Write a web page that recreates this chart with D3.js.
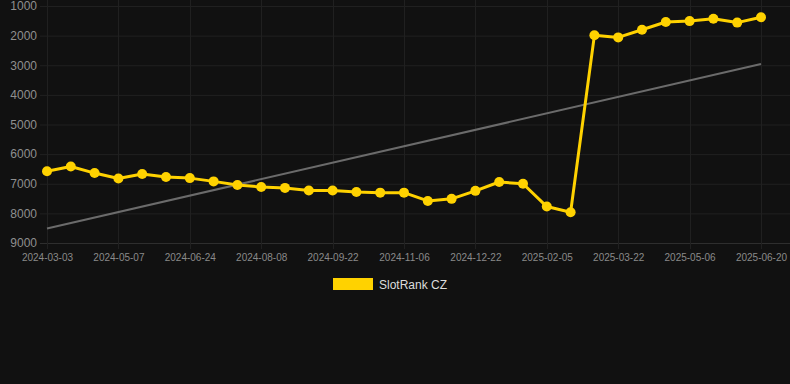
<!DOCTYPE html>
<html>
<head>
<meta charset="utf-8">
<script src="https://cdn.jsdelivr.net/npm/d3@7"></script>
<style>
  html, body { margin: 0; padding: 0; background: #111111; }
  #chart { width: 790px; height: 384px; }
  text { font-family: Arial, "Liberation Sans", Helvetica, sans-serif; }
</style>
</head>
<body>
<div id="chart"></div>
<script>
// dates of each point (only every 3rd one is labelled)
const dates = [
  "2024-03-03", "2024-03-25", "2024-04-16", "2024-05-07", "2024-05-23", "2024-06-08",
  "2024-06-24", "2024-07-09", "2024-07-24", "2024-08-08", "2024-08-23", "2024-09-07",
  "2024-09-22", "2024-10-07", "2024-10-22", "2024-11-06", "2024-11-21", "2024-12-07",
  "2024-12-22", "2025-01-06", "2025-01-21", "2025-02-05", "2025-02-20", "2025-03-07",
  "2025-03-22", "2025-04-06", "2025-04-21", "2025-05-06", "2025-05-21", "2025-06-05",
  "2025-06-20"
];
const ranks = [
  6580, 6420, 6640, 6820, 6670, 6770, 6810, 6920, 7040, 7110, 7140, 7230,
  7230, 7280, 7300, 7300, 7580, 7510, 7240, 6940, 7000, 7770, 7960,
  1990, 2060, 1800, 1540, 1510, 1430, 1560, 1380
];
// trend line: value at first and last date
const trend = [8510, 2960];
const yTicks = [1000, 2000, 3000, 4000, 5000, 6000, 7000, 8000, 9000];
const seriesName = "SlotRank CZ";

const width = 790, height = 384;
const gold = "#ffd200";

const svg = d3.select("#chart")
  .append("svg")
    .attr("width", width)
    .attr("height", height);

svg.append("rect")
  .attr("width", width)
  .attr("height", height)
  .attr("fill", "#111111");

const x = d3.scalePoint()
  .domain(dates)
  .range([47, 761]);
const y = d3.scaleLinear()
  .domain([1000, 9000])
  .range([6, 243]);

const labelled = dates.filter((d, i) => i % 3 === 0);

// grid
svg.append("g")
  .selectAll("line")
  .data(yTicks)
  .enter()
  .append("line")
    .attr("x1", 40)
    .attr("x2", width)
    .attr("y1", d => y(d) + 0.5)
    .attr("y2", d => y(d) + 0.5)
    .attr("stroke", d => d === 9000 ? "#2e2e2e" : "#202020")
    .attr("stroke-width", 1);

svg.append("g")
  .selectAll("line")
  .data(labelled)
  .enter()
  .append("line")
    .attr("x1", d => Math.round(x(d)) + 0.5)
    .attr("x2", d => Math.round(x(d)) + 0.5)
    .attr("y1", 0)
    .attr("y2", 249)
    .attr("stroke", "#202020")
    .attr("stroke-width", 1);

// axes
const yAxis = svg.append("g")
  .attr("transform", "translate(37, 0)")
  .call(d3.axisLeft(y).tickValues(yTicks).tickSize(0).tickPadding(0).tickFormat(d => d));
yAxis.select(".domain").remove();
yAxis.selectAll("text")
  .style("font-size", "12px")
  .attr("fill", "#8f8f8f");

const xAxis = svg.append("g")
  .attr("transform", "translate(0, 254)")
  .call(d3.axisBottom(x).tickValues(labelled).tickSize(0).tickPadding(0));
xAxis.select(".domain").remove();
xAxis.selectAll("text")
  .style("font-size", "10px")
  .attr("fill", "#8a8a8a");

// trend line
svg.append("line")
  .attr("x1", x(dates[0]))
  .attr("x2", x(dates[dates.length - 1]))
  .attr("y1", y(trend[0]))
  .attr("y2", y(trend[1]))
  .attr("stroke", "#6b6b6b")
  .attr("stroke-width", 2);

// series
const line = d3.line()
  .x((d, i) => x(dates[i]))
  .y(d => y(d));

svg.append("path")
  .datum(ranks)
  .attr("d", line)
  .attr("fill", "none")
  .attr("stroke", gold)
  .attr("stroke-width", 3)
  .attr("stroke-linejoin", "round");

svg.append("g")
  .selectAll("circle")
  .data(ranks)
  .enter()
  .append("circle")
    .attr("cx", (d, i) => x(dates[i]))
    .attr("cy", d => y(d))
    .attr("r", 5)
    .attr("fill", gold);

// legend
const legend = svg.append("g").attr("transform", "translate(333, 278)");
legend.append("rect")
  .attr("width", 40)
  .attr("height", 12)
  .attr("fill", gold);
legend.append("text")
  .attr("x", 46)
  .attr("y", 11)
  .style("font-size", "12px")
  .attr("fill", "#dddddd")
  .text(seriesName);
</script>
</body>
</html>
